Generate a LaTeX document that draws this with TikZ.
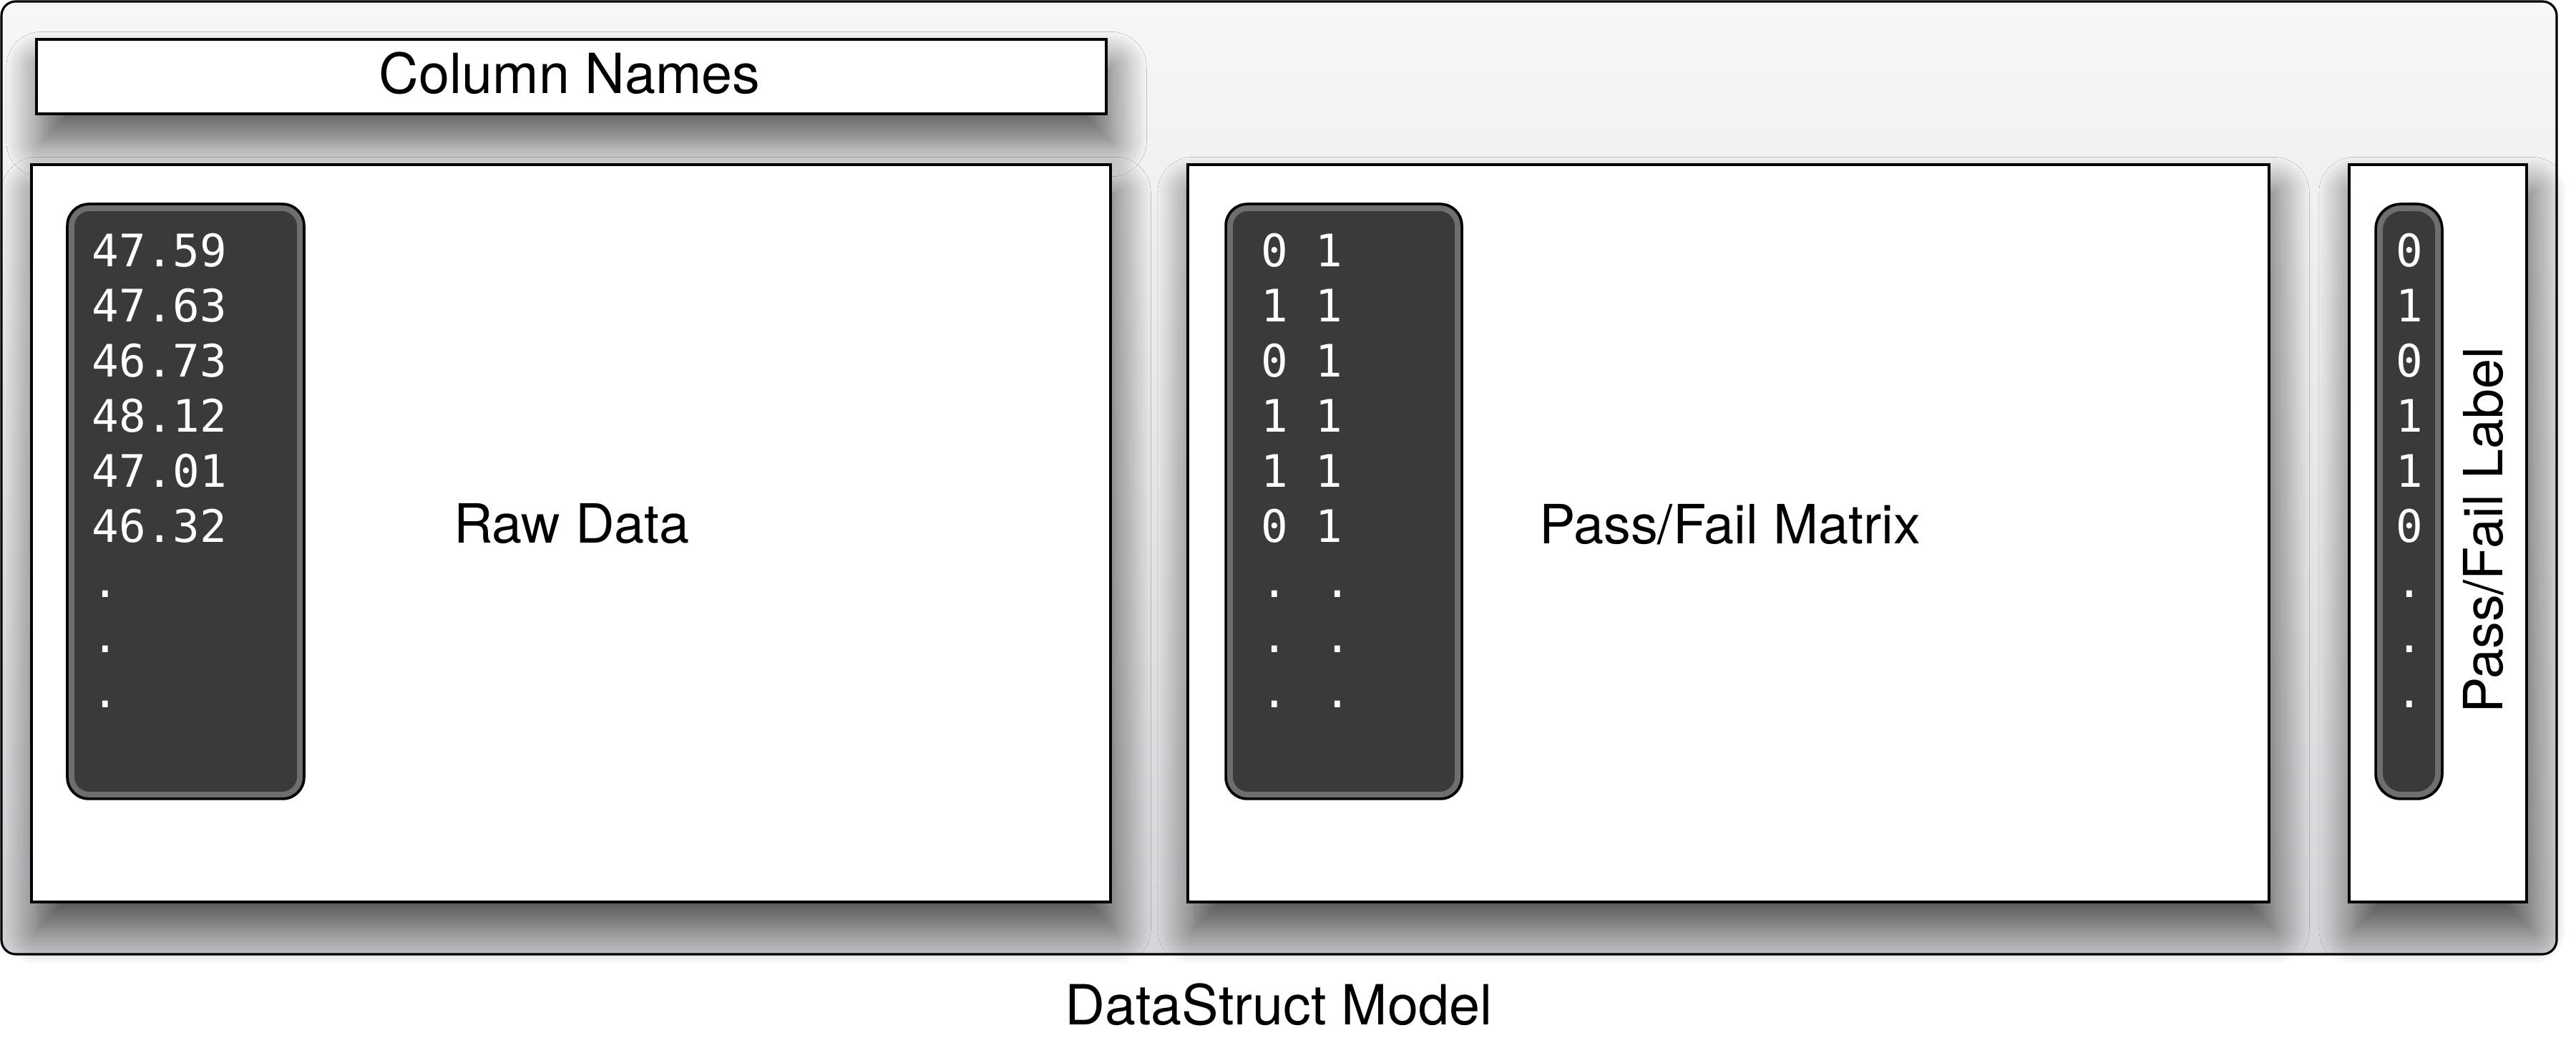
\documentclass[tikz,border=0pt]{standalone}
\usepackage{fontspec}
\setmainfont{TeX Gyre Heros}
\newfontfamily\monofont{DejaVu Sans Mono}
\usetikzlibrary{shadows.blur}
\definecolor{outertop}{HTML}{F7F7F8}
\definecolor{outerbot}{HTML}{D4D5D8}
\definecolor{darkfill}{HTML}{3A3A3C}
\definecolor{bevelc}{HTML}{6E6E71}
\begin{document}
\begin{tikzpicture}[x=1cm,y=1cm,
  lbl/.style={font=\fontsize{21.5}{26}\selectfont, inner sep=0pt},
  biglbl/.style={font=\fontsize{22}{26}\selectfont, inner sep=0pt},
  mono/.style={font=\monofont\fontsize{17.8}{22}\selectfont, text=white, inner sep=0pt},
  outerbox/.style={draw=black, line width=0.9pt, rounded corners=0.2cm,
    top color=outertop, bottom color=outerbot, inner sep=0pt, outer sep=0pt},
  panel/.style={draw=black, line width=1pt, fill=white, inner sep=0pt, outer sep=0pt,
    blur shadow={shadow xshift=2pt, shadow yshift=-11pt, shadow blur radius=14pt,
      shadow blur steps=24, shadow opacity=65}},
  darkbox/.style={draw=black, line width=1pt, fill=darkfill, inner sep=0pt, outer sep=0pt, rounded corners=#1},
  bevel/.style={draw=bevelc, line width=2.2pt, rounded corners=#1},
]
\useasboundingbox (0,0) rectangle (36,14.5);

% outer container
\node[outerbox, minimum width=35.71cm, minimum height=13.31cm] (outer) at (17.875,7.825) {};

% panels
\node[panel, minimum width=14.95cm, minimum height=1.04cm] (colnames) at (7.985,13.43) {};
\node[panel, minimum width=15.08cm, minimum height=10.30cm] (raw) at (7.98,7.05) {};
\node[panel, minimum width=15.11cm, minimum height=10.30cm] (matrix) at (24.155,7.05) {};
\node[panel, minimum width=2.48cm, minimum height=10.30cm] (lab) at (34.07,7.05) {};

% dark boxes
\node[darkbox=0.3cm, minimum width=3.31cm, minimum height=8.31cm] (rawd) at (2.595,7.495) {};
\draw[bevel=0.25cm] ([shift={(0.06,-0.06)}]rawd.north west) rectangle ([shift={(-0.06,0.06)}]rawd.south east);
\node[darkbox=0.3cm, minimum width=3.30cm, minimum height=8.31cm] (matd) at (18.78,7.495) {};
\draw[bevel=0.25cm] ([shift={(0.06,-0.06)}]matd.north west) rectangle ([shift={(-0.06,0.06)}]matd.south east);
\node[darkbox=0.35cm, minimum width=0.93cm, minimum height=8.31cm] (labd) at (33.665,7.495) {};
\draw[bevel=0.3cm] ([shift={(0.06,-0.06)}]labd.north west) rectangle ([shift={(-0.06,0.06)}]labd.south east);

% texts in dark boxes
\foreach \t [count=\i] in {47.59,47.63,46.73,48.12,47.01,46.32,.,.,.}
  \node[mono, anchor=base west] (r\i) at (1.28,{10.77-(\i-1)*0.77}) {\t};
\foreach \t [count=\i] in {0 1,1 1,0 1,1 1,1 1,0 1,. .,. .,. .}
  \node[mono, anchor=base west] (m\i) at (17.62,{10.77-(\i-1)*0.77}) {\t};
\foreach \t [count=\i] in {0,1,0,1,1,0,.,.,.}
  \node[mono, anchor=base] (l\i) at (33.67,{10.77-(\i-1)*0.77}) {\t};

% labels
\node[biglbl, anchor=base] (tcol) at (7.96,13.19) {Column Names};
\node[lbl, anchor=base] (traw) at (7.99,6.91) {Raw Data};
\node[lbl, anchor=base] (tmat) at (24.175,6.90) {Pass/Fail Matrix};
\node[lbl, anchor=base, rotate=90] (tlab) at (34.97,7.09) {Pass/Fail Label};
\node[biglbl, anchor=base] (tmodel) at (17.87,0.18) {DataStruct Model};
\end{tikzpicture}
\end{document}
